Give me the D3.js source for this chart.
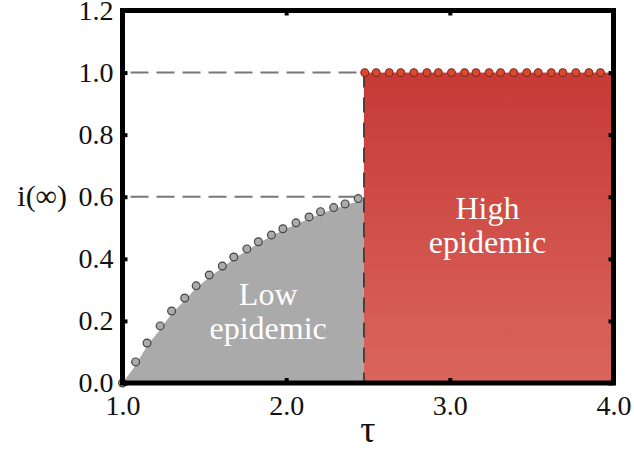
<!DOCTYPE html>
<html>
  <head>
    <meta charset="utf-8">
    <title>Epidemic phase diagram</title>
    <script src="https://d3js.org/d3.v7.min.js"></script>
    <style>
      body { margin: 0; background: #fff; }
      svg text { font-family: "Liberation Serif", "Times New Roman", serif; }
    </style>
  </head>
  <body>
    <div id="chart"></div>
    <script>
      // data
      var tauLow = [1.00, 1.08, 1.15, 1.23, 1.30, 1.38, 1.45, 1.53, 1.61, 1.68,
                    1.76, 1.83, 1.91, 1.98, 2.06, 2.14, 2.21, 2.29, 2.36, 2.44];
      var iLow = [0.000, 0.068, 0.129, 0.184, 0.232, 0.274, 0.313, 0.348, 0.377, 0.406,
                  0.432, 0.455, 0.477, 0.497, 0.516, 0.535, 0.552, 0.565, 0.577, 0.594];
      // smooth boundary of the grey region
      var tauCurve = [1.00, 1.08, 1.15, 1.23, 1.30, 1.38, 1.45, 1.53, 1.61, 1.68,
                      1.76, 1.83, 1.91, 1.98, 2.06, 2.14, 2.21, 2.29, 2.36, 2.44, 2.475];
      var iCurve = [0.000, 0.058, 0.118, 0.172, 0.222, 0.266, 0.305, 0.340, 0.371, 0.400,
                    0.426, 0.450, 0.472, 0.492, 0.511, 0.529, 0.545, 0.560, 0.573, 0.585, 0.590];
      var tauHigh = [2.48, 2.55, 2.63, 2.70, 2.78, 2.86, 2.93, 3.01, 3.09, 3.16,
                     3.24, 3.31, 3.39, 3.47, 3.54, 3.62, 3.69, 3.77, 3.85, 3.92];
      var iHigh = [1, 1, 1, 1, 1, 1, 1, 1, 1, 1, 1, 1, 1, 1, 1, 1, 1, 1, 1, 1];
      var tauCritical = 2.475;
      var lowMax = 0.6;
      var xTicks = [1.0, 2.0, 3.0, 4.0];
      var yTicks = [0.0, 0.2, 0.4, 0.6, 0.8, 1.0, 1.2];

      var serif = "Liberation Serif";

      var margin = {top: 10.5, right: 20.5, bottom: 67, left: 122.5},
          width = 634 - margin.left - margin.right,
          height = 450 - margin.top - margin.bottom;

      var svg = d3.select("#chart")
        .append("svg")
          .attr("width", 634)
          .attr("height", 450)
          .attr("font-family", serif)
        .append("g")
          .attr("transform", "translate(" + margin.left + "," + margin.top + ")");

      var x = d3.scaleLinear().domain([1, 4]).range([0, width]);
      var y = d3.scaleLinear().domain([0, 1.2]).range([height, 0]);

      // gradient for the high epidemic region
      var grad = svg.append("defs").append("linearGradient")
        .attr("id", "redgrad")
        .attr("x1", 0).attr("y1", 0).attr("x2", 0).attr("y2", 1);
      grad.append("stop").attr("offset", "0%").attr("stop-color", "#c73a36");
      grad.append("stop").attr("offset", "100%").attr("stop-color", "#da655d");

      // low epidemic region
      var curve = tauCurve.map(function(t, i) { return {t: t, v: iCurve[i]}; });
      svg.append("path")
        .datum(curve)
        .attr("fill", "#aaaaaa")
        .attr("d", d3.area()
          .x(function(d) { return x(d.t); })
          .y0(y(0))
          .y1(function(d) { return y(d.v); })
          .curve(d3.curveMonotoneX));

      // high epidemic region
      svg.append("rect")
        .attr("x", x(tauCritical))
        .attr("y", y(1))
        .attr("width", x(4) - x(tauCritical))
        .attr("height", y(0) - y(1))
        .attr("fill", "url(#redgrad)");

      // guide lines
      [1.0, lowMax].forEach(function(v) {
        svg.append("line")
          .attr("x1", x(1) + 8).attr("x2", x(tauCritical))
          .attr("y1", y(v)).attr("y2", y(v))
          .attr("stroke", "#777")
          .attr("stroke-width", 2)
          .attr("stroke-dasharray", "18,8");
      });
      svg.append("line")
        .attr("x1", x(tauCritical)).attr("x2", x(tauCritical))
        .attr("y1", y(1)).attr("y2", y(0))
        .attr("stroke", "#333")
        .attr("stroke-width", 1.6)
        .attr("stroke-dasharray", "15,10");

      // markers
      svg.selectAll(".low")
        .data(tauLow)
        .enter().append("circle")
          .attr("class", "low")
          .attr("cx", function(d) { return x(d); })
          .attr("cy", function(d, i) { return y(iLow[i]); })
          .attr("r", 3.9)
          .attr("fill", "#ababab")
          .attr("stroke", "#444")
          .attr("stroke-width", 1.2);

      svg.selectAll(".high")
        .data(tauHigh)
        .enter().append("circle")
          .attr("class", "high")
          .attr("cx", function(d) { return x(d); })
          .attr("cy", function(d, i) { return y(iHigh[i]); })
          .attr("r", 3.9)
          .attr("fill", "#d9482f")
          .attr("stroke", "#7d2a1c")
          .attr("stroke-width", 1.1);

      // axes, ticks inward
      var axB = svg.append("g")
        .attr("transform", "translate(0," + height + ")")
        .call(d3.axisBottom(x).tickValues(xTicks).tickFormat(d3.format(".1f"))
          .tickSizeInner(-5).tickSizeOuter(0).tickPadding(12));
      var axL = svg.append("g")
        .call(d3.axisLeft(y).tickValues(yTicks).tickFormat(d3.format(".1f"))
          .tickSizeInner(-5).tickSizeOuter(0).tickPadding(9));
      var axT = svg.append("g")
        .call(d3.axisTop(x).tickValues(xTicks).tickFormat("")
          .tickSizeInner(-5).tickSizeOuter(0));
      var axR = svg.append("g")
        .attr("transform", "translate(" + width + ",0)")
        .call(d3.axisRight(y).tickValues(yTicks).tickFormat("")
          .tickSizeInner(-5).tickSizeOuter(0));

      [axB, axL, axT, axR].forEach(function(a) {
        a.attr("font-family", serif).attr("font-size", 28);
        a.select(".domain").remove();
        a.selectAll(".tick line").attr("stroke", "#000").attr("stroke-width", 4);
        a.selectAll(".tick text")
          .attr("fill", "#111")
          .attr("font-family", serif)
          .attr("font-size", 28);
      });

      // frame
      svg.append("rect")
        .attr("x", 0).attr("y", 0)
        .attr("width", width).attr("height", height)
        .attr("fill", "none")
        .attr("stroke", "#000")
        .attr("stroke-width", 5);

      // axis titles
      svg.append("text")
        .attr("x", width / 2)
        .attr("y", 442 - margin.top)
        .attr("text-anchor", "middle")
        .attr("fill", "#111")
        .attr("font-size", 38)
        .text("τ");
      svg.append("text")
        .attr("x", 67 - margin.left)
        .attr("y", height / 2)
        .attr("dy", "0.32em")
        .attr("text-anchor", "end")
        .attr("fill", "#111")
        .attr("font-size", 30)
        .text("i(∞)");

      // region labels
      var lowLabel = svg.append("text")
        .attr("text-anchor", "middle")
        .attr("fill", "#fff")
        .attr("font-size", 32);
      lowLabel.append("tspan").attr("x", x(1.89)).attr("y", 305 - margin.top).text("Low");
      lowLabel.append("tspan").attr("x", x(1.89)).attr("y", 339 - margin.top).text("epidemic");

      var highLabel = svg.append("text")
        .attr("text-anchor", "middle")
        .attr("fill", "#fff")
        .attr("font-size", 32);
      highLabel.append("tspan").attr("x", x(3.23)).attr("y", 219 - margin.top).text("High");
      highLabel.append("tspan").attr("x", x(3.23)).attr("y", 253 - margin.top).text("epidemic");
    </script>
  </body>
</html>
